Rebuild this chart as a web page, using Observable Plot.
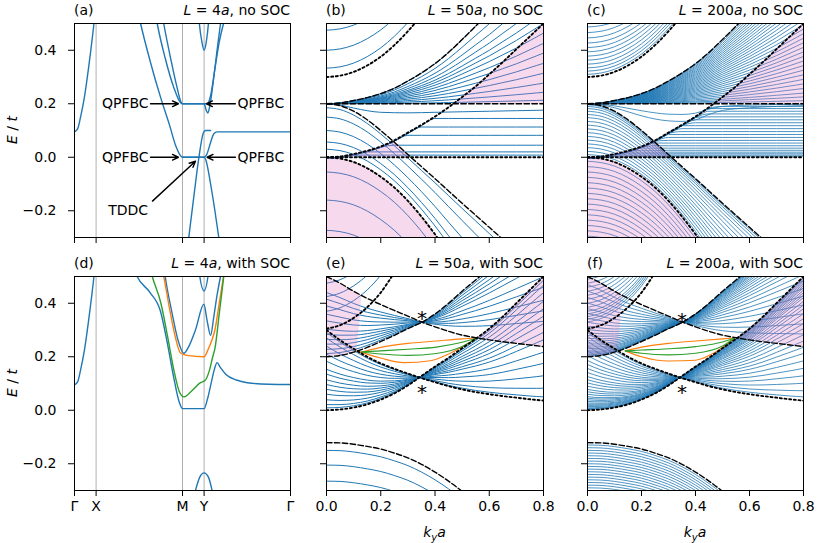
<!DOCTYPE html>
<html><head><meta charset="utf-8">
<script src="https://cdn.jsdelivr.net/npm/d3@7"></script>
<script src="https://cdn.jsdelivr.net/npm/@observablehq/plot@0.6"></script>
<style>
body{margin:0;background:#fff;}
#fig{position:relative;width:817px;height:543px;overflow:hidden;font-family:"DejaVu Sans",sans-serif;color:#000;}
.lab{position:absolute;font-size:14px;line-height:16px;white-space:nowrap;}
</style></head><body><div id="fig"></div><script>
// ---------------- data ----------------
const yTicks = [-0.2, 0, 0.2, 0.4];
const kTicks = [0, 0.2, 0.4, 0.6, 0.8];
const pathTickPos = [0, 1, 5, 6, 10];
const pathTickLabels = ["Γ", "X", "M", "Y", "Γ"];
const kGrid = [0,0.05,0.1,0.15,0.2,0.25,0.3,0.35,0.4,0.45,0.5,0.55,0.6,0.65,0.7,0.75,0.8];

// panel (a): L=4a no SOC, path coordinate vs E
const aLines = [
  [[0,0.095],[0.15,0.107],[0.28,0.15],[0.45,0.22],[0.66,0.34],[0.9,0.5],[1.0,0.58]],
  [[2.9,0.56],[3.06,0.5],[3.5,0.36],[4.0,0.22],[4.4,0.12],[4.7,0.04],[4.95,0.002],[5,0],[6,0],[6.08,-0.01],[6.3,-0.1],[6.5,-0.2],[6.68,-0.3]],
  [[5.29,-0.3],[5.52,-0.15],[5.76,0],[5.96,0.09],[6.06,0.1],[6.3,0.1]],
  [[5,0],[6,0],[6.12,0.01],[6.3,0.055],[6.45,0.088],[6.6,0.095],[10,0.095]],
  [[3.7,0.56],[3.83,0.5],[4.2,0.37],[4.6,0.26],[4.9,0.205],[5,0.2],[6,0.2],[6.1,0.175],[6.17,0.165],[6.26,0.19],[6.45,0.3],[6.6,0.4],[6.76,0.5]],
  [[4.0,0.56],[4.13,0.5],[4.45,0.37],[4.75,0.26],[4.95,0.203],[5,0.2],[6.0,0.2],[6.15,0.2],[6.3,0.23],[6.5,0.33],[6.7,0.43],[6.9,0.5]],
  [[5.72,0.56],[5.78,0.5],[5.9,0.43],[6.0,0.4],[6.1,0.43],[6.2,0.5],[6.25,0.56]]
];
const annTexts = [
  {x:3.43, E:0.2, t:"QPFBC", a:"end"}, {x:7.55, E:0.2, t:"QPFBC", a:"start"},
  {x:3.43, E:0.0, t:"QPFBC", a:"end"}, {x:7.55, E:0.0, t:"QPFBC", a:"start"},
  {x:2.48, E:-0.2, t:"TDDC", a:"middle"}
];
const annArrows = [
  {x1:3.52,y1:0.2,x2:4.81,y2:0.2}, {x1:7.45,y1:0.2,x2:6.11,y2:0.2},
  {x1:3.52,y1:0.0,x2:4.81,y2:0.0}, {x1:7.45,y1:0.0,x2:6.14,y2:0.0},
  {x1:3.61,y1:-0.164,x2:5.6,y2:-0.015}
];

// panel (d): L=4a with SOC
const dBlue = [
  [[0,0.095],[0.15,0.107],[0.28,0.15],[0.45,0.22],[0.66,0.34],[0.9,0.5],[1.0,0.58]],
  [[2.75,0.53],[2.9,0.5],[3.5,0.44],[3.98,0.37],[4.3,0.25],[4.6,0.12],[4.85,0.03],[5.0,0.006],[6.0,0.006],[6.15,0.04],[6.35,0.11],[6.5,0.16],[6.6,0.178],[6.75,0.16],[7.0,0.135],[7.5,0.113],[8.0,0.103],[9,0.097],[10,0.096]],
  [[4.1,0.56],[4.2,0.5],[4.5,0.37],[4.8,0.26],[5.06,0.213],[5.3,0.24],[5.6,0.3],[5.99,0.396],[6.15,0.33],[6.3,0.28],[6.45,0.35],[6.6,0.43],[6.76,0.5]],
  [[5.75,0.53],[5.8,0.5],[6.0,0.446],[6.18,0.5],[6.23,0.53]],
  [[5.6,-0.3],[5.8,-0.25],[6.0,-0.234],[6.2,-0.25],[6.37,-0.3]]
];
const dGreen = [[3.5,0.53],[3.6,0.5],[4.0,0.4],[4.3,0.28],[4.6,0.15],[4.85,0.07],[5.06,0.05],[5.4,0.07],[5.83,0.103],[6.05,0.112],[6.25,0.15],[6.4,0.2],[6.5,0.23],[6.7,0.36],[6.91,0.5]];
const dOrange = [[4.05,0.53],[4.13,0.5],[4.4,0.38],[4.65,0.28],[4.9,0.215],[5.2,0.205],[6.0,0.2],[6.2,0.23],[6.35,0.26],[6.5,0.3],[6.7,0.4],[6.9,0.5]];

// top row bulk-band edges (on kGrid)
const envUpT   = [0.2,0.203,0.212,0.223,0.238,0.258,0.285,0.315,0.35,0.392,0.44,0.49,0.54,0.595,0.65,0.71,0.77];
const dashDnT  = [0.2,0.193,0.172,0.14,0.1,0.056,0.01,-0.035,-0.08,-0.126,-0.172,-0.217,-0.262,-0.307,-0.352,-0.397,-0.442];
const dotLowT  = [0,-0.005,-0.018,-0.041,-0.073,-0.113,-0.163,-0.222,-0.288,-0.36,-0.43,-0.5,-0.57,-0.64,-0.71,-0.78,-0.85];
const dotMidT  = [0,0.003,0.012,0.024,0.04,0.063,0.092,0.121,0.152,0.187,0.225,0.265,0.31,0.356,0.404,0.452,0.5];
const dotTopT  = [0.30,0.305,0.319,0.343,0.376,0.419,0.471,0.53,0.6,0.68,0.77,0.86,0.96,1.07,1.18,1.3,1.42];
const pinkLowT = [[0,-0.3,0],[0.05,-0.3,-0.005],[0.1,-0.3,-0.018],[0.15,-0.3,-0.041],[0.2,-0.3,-0.073],[0.25,-0.3,-0.113],[0.3,-0.3,-0.163],[0.35,-0.3,-0.222],[0.4,-0.3,-0.288],[0.41,-0.3,-0.3]];
const pinkMidT = [[0,0,0],[0.05,0,0.003],[0.1,0,0.012],[0.15,0,0.024],[0.2,0,0.04],[0.25,0,0.06],[0.3,0,0.01],[0.311,0,0]];
const pinkUpT  = [[0.467,0.2,0.2],[0.5,0.2,0.225],[0.55,0.2,0.265],[0.6,0.2,0.31],[0.65,0.2,0.356],[0.7,0.2,0.404],[0.75,0.2,0.452],[0.8,0.2,0.5]];

// panel (b) L=50a no SOC
const aE0_b = [0.475, 0.40, 0.333];
const bF_b  = [1,0.88,0.76,0.667,0.588,0.526,0.463,0.396,0.332,0.265,0.2,0.135,0.075,0.023];
const cF_b  = [0.15,0.285,0.5,0.75,0.925];
const dE_b  = [0.145,0.113,0.082,0.045,0.02,0.008];
const uLines_b = [[[0,0.2],[0.05,0.195],[0.1,0.184],[0.15,0.174],[0.2,0.168],[0.3,0.166],[0.4,0.168],[0.5,0.17],[0.6,0.172],[0.7,0.174],[0.8,0.176]]];
const pk_b  = [-0.055,-0.16,-0.273];

// panel (c) L=200a no SOC
const aE0_c = [0.487,0.466,0.446,0.427,0.41,0.394,0.378,0.363,0.348,0.334,0.322,0.31];
const bF_c  = [1,0.97,0.94,0.91,0.88,0.85,0.82,0.79,0.76,0.73,0.7,0.67,0.64,0.61,0.58,0.55,0.52,0.49,0.46,0.43,0.4,0.37,0.34,0.31,0.28,0.25,0.22,0.19,0.16,0.13,0.1,0.07,0.045,0.02];
const cF_c  = [0.05,0.11,0.18,0.25,0.32,0.39,0.46,0.53,0.6,0.67,0.74,0.8,0.86,0.91,0.95,0.98];
const dE_c  = [0.004,0.008,0.013,0.019,0.026,0.034,0.043,0.053,0.063,0.074,0.085,0.096,0.107,0.118,0.129,0.14,0.151,0.162,0.172,0.182,0.19];
const uLines_c = [
  [[0,0.2],[0.05,0.196],[0.1,0.185],[0.15,0.17],[0.2,0.155],[0.25,0.143],[0.3,0.136],[0.35,0.134],[0.4,0.14],[0.45,0.16],[0.5,0.175],[0.6,0.185],[0.7,0.19],[0.8,0.193]],
  [[0,0.2],[0.05,0.198],[0.1,0.192],[0.15,0.183],[0.2,0.174],[0.25,0.166],[0.3,0.161],[0.35,0.16],[0.4,0.165],[0.45,0.18],[0.5,0.19],[0.6,0.195],[0.8,0.198]]
];
const pk_c  = [-0.015,-0.035,-0.055,-0.075,-0.095,-0.115,-0.135,-0.155,-0.175,-0.195,-0.215,-0.235,-0.255,-0.275,-0.295];

// bottom row bulk-band edges (on kGrid)
const dash1B = [0.5,0.475,0.445,0.418,0.395,0.373,0.352,0.33,0.312,0.295,0.281,0.271,0.263,0.256,0.25,0.244,0.238];
const dashQB = [0.2,0.205,0.217,0.235,0.257,0.28,0.305,0.328,0.36,0.4,0.445,0.487,0.53,0.575,0.62,0.665,0.71];
const dot2B  = [0.305,0.318,0.345,0.385,0.44,0.515,0.6,0.69,0.79,0.9,1.0,1.1,1.2,1.3,1.4,1.5,1.6];
const dot3B  = [0.30,0.262,0.23,0.2,0.175,0.155,0.137,0.12,0.105,0.09,0.078,0.068,0.06,0.053,0.047,0.041,0.036];
const dot4B  = [0,0.003,0.01,0.022,0.04,0.063,0.093,0.128,0.163,0.196,0.232,0.267,0.305,0.35,0.4,0.45,0.5];
const dashLowB = [-0.121,-0.122,-0.127,-0.135,-0.145,-0.16,-0.178,-0.202,-0.231,-0.265,-0.303,-0.345,-0.39,-0.44,-0.49,-0.54,-0.59];
const pinkLeftB  = [[0,0.2,0.5],[0.05,0.205,0.475],[0.1,0.217,0.445],[0.112,0.222,0.439],[0.122,0.32,0.434],[0.13,0.43,0.43]];
const pinkRightB = [[0.555,0.27,0.27],[0.6,0.263,0.305],[0.65,0.256,0.35],[0.7,0.25,0.4],[0.75,0.244,0.45],[0.8,0.238,0.5]];

// panel (e) L=50a with SOC
const uF_e = [0.2,0.283,0.367,0.47,0.553,0.657,0.72,0.783,0.843,0.907,0.96];
const lF_e = [0.03,0.07,0.13,0.2,0.26,0.32,0.38,0.45,0.51,0.61,0.7,0.8,0.9,0.97];
const aE0_e = [0.37,0.425,0.475];
const pE0_e = [-0.15,-0.205,-0.265];
const orangeE = [
  [[0.123,0.215],[0.2,0.235],[0.3,0.25],[0.405,0.259],[0.5,0.267],[0.555,0.27]],
  [[0.112,0.222],[0.2,0.195],[0.286,0.178],[0.383,0.185],[0.46,0.215],[0.555,0.27]]
];
const greenE = [
  [[0.13,0.218],[0.2,0.222],[0.3,0.228],[0.405,0.236],[0.5,0.254],[0.555,0.27]],
  [[0.13,0.218],[0.2,0.21],[0.3,0.205],[0.405,0.212],[0.5,0.238],[0.555,0.27]]
];
const starsE = [[0.352,0.36],[0.352,0.085]];

// panel (f) L=200a with SOC
const uF_f = [0.1,0.18,0.26,0.33,0.4,0.46,0.52,0.57,0.62,0.66,0.7,0.735,0.77,0.8,0.83,0.855,0.88,0.9,0.92,0.94,0.955,0.97,0.98,0.99];
const lF_f = [0.01,0.02,0.03,0.045,0.06,0.075,0.09,0.11,0.13,0.15,0.17,0.2,0.23,0.26,0.3,0.34,0.38,0.42,0.47,0.52,0.57,0.62,0.68,0.74,0.8,0.86,0.92,0.97];
const aE0_f = [0.33,0.34,0.35,0.36,0.37,0.385,0.4,0.415,0.43,0.445,0.46,0.475,0.49];
const pE0_f = [-0.13,-0.14,-0.15,-0.16,-0.17,-0.18,-0.19,-0.2,-0.21,-0.22,-0.23,-0.24,-0.25,-0.26,-0.27,-0.28,-0.29,-0.3];
const orangeF = [
  [[0.14,0.222],[0.2,0.236],[0.3,0.25],[0.4,0.259],[0.5,0.267],[0.545,0.27]],
  [[0.14,0.222],[0.2,0.2],[0.3,0.184],[0.4,0.187],[0.47,0.215],[0.545,0.27]]
];
const greenF = [
  [[0.14,0.222],[0.2,0.225],[0.3,0.23],[0.4,0.238],[0.5,0.255],[0.545,0.27]],
  [[0.14,0.222],[0.2,0.213],[0.3,0.207],[0.4,0.213],[0.5,0.24],[0.545,0.27]]
];
const starsF = [[0.35,0.355],[0.35,0.085]];

// ---------------- drawing ----------------
const blue = "#1f77b4", orange = "#ff7f0e", green = "#2ca02c", pink = "#e377c2";
const fig = document.getElementById("fig");
const H = 214;
const frames = {a:{x:74,y:23,w:216}, b:{x:326,y:23,w:217}, c:{x:587,y:23,w:216},
                d:{x:74,y:276,w:216}, e:{x:326,y:276,w:217}, f:{x:587,y:276,w:216}};

const rows = lines => { const r = []; lines.forEach((pts, id) => pts.forEach(([k, E]) => r.push({id, k, E}))); return r; };
const grid = arr => kGrid.map((k, i) => [k, arr[i]]);
const between = (lo, hi, fs) => fs.map(f => kGrid.map((k, i) => [k, lo[i] + f * (hi[i] - lo[i])]));
const shifted = (shape, base, e0s) => e0s.map(e0 => kGrid.map((k, i) => [k, e0 + shape[i] - base]));
const hugging = (diag, ends) => ends.map(e => kGrid.map((k, i) => [k, Math.min(diag[i] - 0.003, e)]));
const areaRows = a => a.map(([k, lo, hi]) => ({k, lo, hi}));

const lineMark = (lines, stroke, w, curve="monotone-x") => Plot.line(rows(lines), {x:"k", y:"E", z:"id", stroke, strokeWidth:w, curve, clip:true});
const dashed = lines => Plot.line(rows(lines), {x:"k", y:"E", z:"id", stroke:"black", strokeWidth:1.4, strokeDasharray:"5.5,2.4", curve:"monotone-x", clip:true});
const dotted = lines => Plot.line(rows(lines), {x:"k", y:"E", z:"id", stroke:"black", strokeWidth:1.9, strokeDasharray:"2,2.7", curve:"monotone-x", clip:true});
const pinkArea = a => Plot.areaY(areaRows(a), {x:"k", y1:"lo", y2:"hi", fill:pink, fillOpacity:0.28, curve:"linear", clip:true});

const fmt1 = d3.format(".1f");
const none = () => "";
const pathName = new Map(pathTickPos.map((p, i) => [p, pathTickLabels[i]]));

function makePanel(key, marks, o) {
  const fr = frames[key];
  const mb = fr.y > 100 ? 53 : 20;
  const svg = Plot.plot({
    width: o.ml + fr.w + o.mr, height: 23 + H + mb,
    marginLeft: o.ml, marginRight: o.mr, marginTop: 23, marginBottom: mb,
    x: o.x,
    y: {domain:[-0.3, 0.5], ticks: yTicks, tickSize: 6, tickPadding: 12, tickFormat: o.yLab ? fmt1 : none, label: null},
    style: {fontFamily: "'DejaVu Sans', sans-serif", fontSize: "14px", color: "black", background: "transparent"},
    marks: [...marks, Plot.frame({stroke: "black", strokeWidth: 1})]
  });
  svg.style.position = "absolute";
  svg.style.left = (fr.x - o.ml) + "px";
  svg.style.top = (fr.y - 23) + "px";
  fig.appendChild(svg);
}

const xPath = lab => ({domain:[0, 10], ticks: pathTickPos, tickSize: 6, tickPadding: 5, tickFormat: lab ? (d => pathName.get(d)) : none, label: null});
const xK = lab => ({domain:[0, 0.8], ticks: kTicks, tickSize: 6, tickPadding: 5, tickFormat: lab ? fmt1 : none, label: null});
const vlines = Plot.ruleX(pathTickPos.slice(1, 4), {stroke: "#b0b0b0", strokeWidth: 1});

// (a)
makePanel("a", [
  vlines,
  lineMark(aLines, blue, 1.4),
  Plot.arrow(annArrows, {x1:"x1", y1:"y1", x2:"x2", y2:"y2", stroke:"black", strokeWidth:1.4, headLength:7, headAngle:50}),
  Plot.text(annTexts.filter(d => d.a === "end"), {x:"x", y:"E", text:"t", textAnchor:"end", fontSize:14}),
  Plot.text(annTexts.filter(d => d.a === "start"), {x:"x", y:"E", text:"t", textAnchor:"start", fontSize:14}),
  Plot.text(annTexts.filter(d => d.a === "middle"), {x:"x", y:"E", text:"t", textAnchor:"middle", fontSize:14})
], {ml:74, mr:12, x:xPath(false), yLab:true});

// (d)
makePanel("d", [
  vlines,
  lineMark(dBlue, blue, 1.4),
  lineMark([dOrange], orange, 1.4),
  lineMark([dGreen], green, 1.4)
], {ml:74, mr:12, x:xPath(true), yLab:true});

// top row k-panels
function topMarks(aE0, bF, cF, dE, uL, pk, w) {
  return [
    lineMark(shifted(dotTopT, 0.30, aE0), blue, w),
    lineMark(between(kGrid.map(() => 0.2), envUpT, bF), blue, w),
    lineMark(between(dotLowT, dashDnT, cF), blue, w),
    lineMark(hugging(dotMidT, dE), blue, w),
    lineMark(uL, blue, w),
    lineMark(shifted(dotLowT, 0, pk), blue, w),
    pinkArea(pinkLowT), pinkArea(pinkMidT), pinkArea(pinkUpT),
    dashed([grid(envUpT), grid(dashDnT), [[0,0.2],[0.8,0.2]]]),
    dotted([grid(dotLowT), grid(dotMidT), grid(dotTopT), [[0,0],[0.8,0]]])
  ];
}
makePanel("b", topMarks(aE0_b, bF_b, cF_b, dE_b, uLines_b, pk_b, 1.0), {ml:30, mr:12, x:xK(false)});
makePanel("c", topMarks(aE0_c, bF_c, cF_c, dE_c, uLines_c, pk_c, 0.8), {ml:30, mr:14, x:xK(false)});

// bottom row k-panels
function botMarks(uF, lF, aE0, pE0, oL, gL, stars, w) {
  return [
    lineMark(between(dash1B, dashQB, uF), blue, w),
    lineMark(between(dot4B, dot3B, lF), blue, w),
    lineMark(shifted(dot2B, 0.305, aE0), blue, w),
    lineMark(shifted(dashLowB, -0.121, pE0), blue, w),
    pinkArea(pinkLeftB), pinkArea(pinkRightB),
    lineMark(oL, orange, 1.1),
    lineMark(gL, green, 1.1),
    dashed([grid(dash1B), grid(dashQB), grid(dashLowB)]),
    dotted([grid(dot2B), grid(dot3B), grid(dot4B)]),
    Plot.text(stars, {x: d => d[0], y: d => d[1], text: () => "*", fontSize: 20, dy: 5, fill: "black"})
  ];
}
makePanel("e", botMarks(uF_e, lF_e, aE0_e, pE0_e, orangeE, greenE, starsE, 1.0), {ml:30, mr:12, x:xK(true)});
makePanel("f", botMarks(uF_f, lF_f, aE0_f, pE0_f, orangeF, greenF, starsF, 0.8), {ml:30, mr:14, x:xK(true)});

// ---------------- text labels ----------------
const titles = [
  ["a", "(a)", "<i>L</i> = 4<i>a</i>, no SOC"],
  ["b", "(b)", "<i>L</i> = 50<i>a</i>, no SOC"],
  ["c", "(c)", "<i>L</i> = 200<i>a</i>, no SOC"],
  ["d", "(d)", "<i>L</i> = 4<i>a</i>, with SOC"],
  ["e", "(e)", "<i>L</i> = 50<i>a</i>, with SOC"],
  ["f", "(f)", "<i>L</i> = 200<i>a</i>, with SOC"]
];
function addLabel(html, css) {
  const d = document.createElement("div");
  d.className = "lab"; d.innerHTML = html;
  Object.assign(d.style, css);
  fig.appendChild(d);
}
titles.forEach(([key, tag, txt]) => {
  const fr = frames[key];
  addLabel(tag, {left: fr.x + "px", top: (fr.y - 21) + "px"});
  addLabel(txt, {right: (817 - fr.x - fr.w) + "px", top: (fr.y - 21) + "px"});
});
["a", "d"].forEach(key => {
  const fr = frames[key];
  addLabel("<i>E</i> / <i>t</i>", {left: "12px", top: (fr.y + H / 2) + "px", transform: "translate(-50%,-50%) rotate(-90deg)"});
});
["e", "f"].forEach(key => {
  const fr = frames[key];
  addLabel("<i>k</i><sub style='font-size:10px;line-height:0'><i>y</i></sub><i>a</i>", {left: (fr.x + fr.w / 2) + "px", top: "532px", transform: "translate(-50%,-50%)"});
});
</script></body></html>
